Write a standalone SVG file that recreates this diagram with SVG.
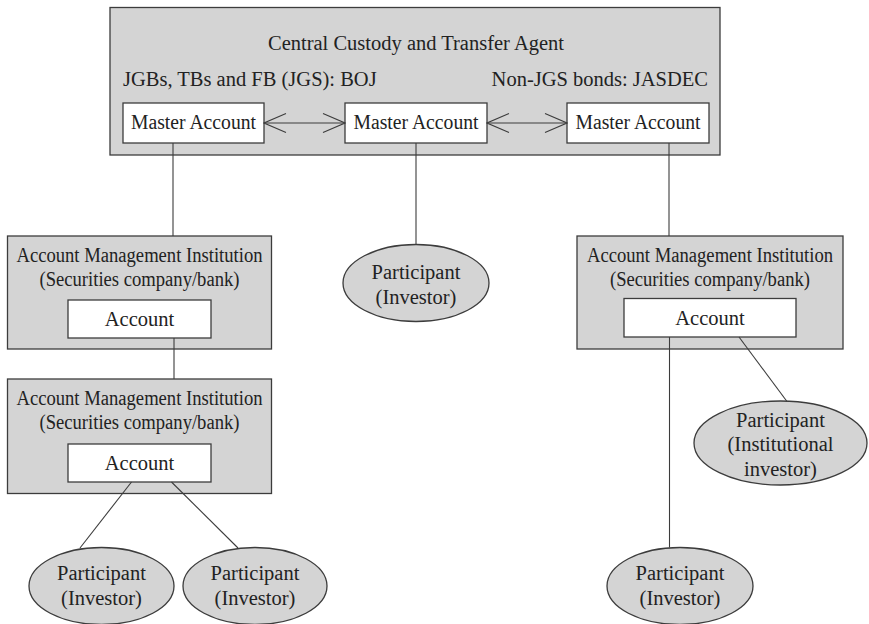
<svg xmlns="http://www.w3.org/2000/svg" width="869" height="624" viewBox="0 0 869 624" font-family="'Liberation Serif', 'DejaVu Serif', serif">
<defs>
<style>
.g{fill:#d4d4d4;stroke:#3c3c3c;stroke-width:1.3}
.w{fill:#ffffff;stroke:#3c3c3c;stroke-width:1.3}
text{font-family:'Liberation Serif', 'DejaVu Serif', serif}
.t{font-size:20.5px;fill:#222;text-anchor:middle}
.l{stroke:#3c3c3c;stroke-width:1.1;fill:none}
</style>
<marker id="ah" viewBox="0 0 24 22" refX="23" refY="11" markerWidth="24" markerHeight="22" markerUnits="userSpaceOnUse" orient="auto-start-reverse">
<path d="M1,1.5 L23,11 L1,20.5" fill="none" stroke="#3c3c3c" stroke-width="1.1"/>
</marker>
</defs>
<rect width="869" height="624" fill="#ffffff"/>
<g id="central">
<rect class="g" x="110" y="7.5" width="610" height="147.5"/>
<text class="t" x="416" y="50">Central Custody and Transfer Agent</text>
<text class="t" x="123" y="86" style="text-anchor:start">JGBs, TBs and FB (JGS): BOJ</text>
<text class="t" x="708" y="86" style="text-anchor:end">Non-JGS bonds: JASDEC</text>
</g>
<g id="master1">
<rect class="w" x="123" y="103" width="141" height="40"/>
<text class="t" x="193.5" y="129" textLength="125" lengthAdjust="spacingAndGlyphs">Master Account</text>
</g>
<g id="master2">
<rect class="w" x="345" y="103" width="142" height="40"/>
<text class="t" x="416" y="129" textLength="125" lengthAdjust="spacingAndGlyphs">Master Account</text>
</g>
<g id="master3">
<rect class="w" x="567" y="103" width="142" height="40"/>
<text class="t" x="638" y="129" textLength="125" lengthAdjust="spacingAndGlyphs">Master Account</text>
</g>
<g id="ami1">
<rect class="g" x="7.5" y="236" width="264" height="113"/>
<text class="t" x="139.5" y="261.5" textLength="246" lengthAdjust="spacingAndGlyphs">Account Management Institution</text>
<text class="t" x="139.5" y="285.5" textLength="200" lengthAdjust="spacingAndGlyphs">(Securities company/bank)</text>
</g>
<g id="account1">
<rect class="w" x="68" y="300" width="143" height="38"/>
<text class="t" x="139.5" y="326">Account</text>
</g>
<g id="ami2">
<rect class="g" x="7.5" y="379" width="264" height="114.5"/>
<text class="t" x="139.5" y="405" textLength="246" lengthAdjust="spacingAndGlyphs">Account Management Institution</text>
<text class="t" x="139.5" y="429" textLength="200" lengthAdjust="spacingAndGlyphs">(Securities company/bank)</text>
</g>
<g id="account2">
<rect class="w" x="68" y="444" width="143" height="38"/>
<text class="t" x="139.5" y="470">Account</text>
</g>
<g id="ami3">
<rect class="g" x="577" y="236" width="266" height="113"/>
<text class="t" x="710" y="261.5" textLength="246" lengthAdjust="spacingAndGlyphs">Account Management Institution</text>
<text class="t" x="710" y="285.5" textLength="200" lengthAdjust="spacingAndGlyphs">(Securities company/bank)</text>
</g>
<g id="account3">
<rect class="w" x="624" y="298.5" width="172" height="38.5"/>
<text class="t" x="710" y="325">Account</text>
</g>
<g id="participant-mid">
<ellipse class="g" cx="416" cy="283" rx="73" ry="38.5"/>
<text class="t" x="416" y="279">Participant</text>
<text class="t" x="416" y="303.5">(Investor)</text>
</g>
<g id="participant-inst">
<ellipse class="g" cx="780.5" cy="443" rx="86.5" ry="42"/>
<text class="t" x="780.5" y="426.5">Participant</text>
<text class="t" x="780.5" y="451">(Institutional</text>
<text class="t" x="780.5" y="475.5">investor)</text>
</g>
<g id="participant-bl">
<ellipse class="g" cx="101.5" cy="586" rx="72.5" ry="38.5"/>
<text class="t" x="101.5" y="580">Participant</text>
<text class="t" x="101.5" y="604.5">(Investor)</text>
</g>
<g id="participant-bm">
<ellipse class="g" cx="255" cy="586" rx="72" ry="38.5"/>
<text class="t" x="255" y="580">Participant</text>
<text class="t" x="255" y="604.5">(Investor)</text>
</g>
<g id="participant-br">
<ellipse class="g" cx="680" cy="586" rx="73" ry="38.5"/>
<text class="t" x="680" y="580">Participant</text>
<text class="t" x="680" y="604.5">(Investor)</text>
</g>
<g id="connectors">
<line class="l" x1="264" y1="123" x2="345" y2="123" marker-start="url(#ah)" marker-end="url(#ah)"/>
<line class="l" x1="487" y1="123" x2="567" y2="123" marker-start="url(#ah)" marker-end="url(#ah)"/>
<line class="l" x1="173" y1="143" x2="173" y2="236"/>
<line class="l" x1="416" y1="143" x2="416" y2="244.5"/>
<line class="l" x1="669" y1="143" x2="669" y2="236"/>
<line class="l" x1="174" y1="338" x2="174" y2="379"/>
<line class="l" x1="131.5" y1="482" x2="80" y2="548"/>
<line class="l" x1="171.5" y1="482" x2="238" y2="548"/>
<line class="l" x1="669.5" y1="337" x2="669.5" y2="547.5"/>
<line class="l" x1="739" y1="337" x2="787" y2="401.5"/>
</g>
</svg>
